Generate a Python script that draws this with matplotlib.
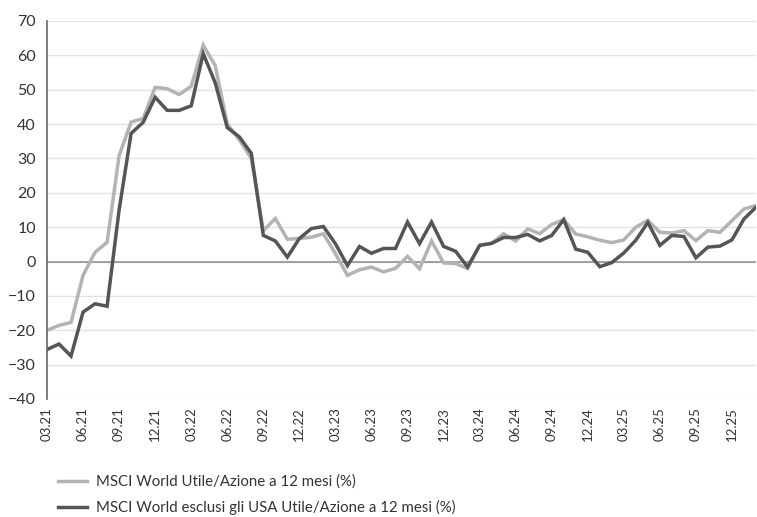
import matplotlib
matplotlib.use("Agg")
import matplotlib.pyplot as plt

# 12m forward EPS growth, monthly 03.21 .. 02.26
world_eps = [
    -20.0, -18.6, -17.7, -4.0, 2.7, 5.6, 30.8, 40.6, 41.6, 50.7,
    50.3, 48.6, 51.0, 63.0, 57.0, 40.0, 35.5, 30.0, 9.0, 12.5,
    6.5, 6.7, 7.1, 8.1, 2.3, -4.0, -2.4, -1.6, -3.0, -2.0,
    1.5, -2.1, 6.0, -0.4, -0.6, -2.0, 4.7, 5.3, 8.1, 6.0,
    9.5, 8.1, 10.8, 12.2, 8.0, 7.2, 6.2, 5.5, 6.3, 10.0,
    12.0, 8.5, 8.3, 9.0, 6.1, 9.0, 8.5, 11.9, 15.3, 16.3,
]
world_ex_usa_eps = [
    -25.6, -24.0, -27.5, -14.7, -12.3, -13.0, 15.0, 37.3, 40.5, 47.8,
    44.0, 44.0, 45.3, 60.5, 52.0, 39.0, 36.3, 31.5, 7.6, 6.0,
    1.3, 6.7, 9.6, 10.2, 5.2, -1.2, 4.4, 2.4, 3.8, 3.8,
    11.5, 5.2, 11.5, 4.4, 3.0, -1.6, 4.7, 5.3, 7.0, 7.0,
    7.9, 6.0, 7.6, 12.2, 3.6, 2.7, -1.5, -0.3, 2.5, 6.2,
    11.4, 4.7, 7.6, 7.3, 1.1, 4.2, 4.5, 6.3, 12.4, 15.8,
]
tick_labels = [
    "03.21", "06.21", "09.21", "12.21", "03.22", "06.22", "09.22", "12.22",
    "03.23", "06.23", "09.23", "12.23", "03.24", "06.24", "09.24", "12.24",
    "03.25", "06.25", "09.25", "12.25",
]
series_names = [
    "MSCI World Utile/Azione a 12 mesi (%)",
    "MSCI World esclusi gli USA Utile/Azione a 12 mesi (%)",
]

LIGHT = "#b3b3b3"
DARK = "#555555"


def main() -> None:
    plt.rcParams["font.family"] = ["Lato", "DejaVu Sans"]
    fig = plt.figure(figsize=(7.57, 5.17), dpi=100)
    ax = fig.add_axes([47 / 757, 1 - 399 / 517, 709 / 757, 378 / 517])

    x = list(range(len(world_eps)))
    ax.plot(x, world_eps, color=LIGHT, lw=2.5, solid_joinstyle="miter", label=series_names[0])
    ax.plot(x, world_ex_usa_eps, color=DARK, lw=2.5, solid_joinstyle="miter", label=series_names[1])

    ax.set_xlim(0, len(x) - 1)
    ax.set_ylim(-40, 70)
    ax.set_yticks(range(-40, 71, 10))
    ax.grid(axis="y", color="#e2e2e2", lw=1)
    ax.axhline(0, color="#8a8a8a", lw=1.1, zorder=1.5)
    ax.set_axisbelow(True)

    ax.set_xticks(range(0, 3 * len(tick_labels), 3))
    ax.set_xticklabels(tick_labels, rotation=90)
    ax.tick_params(axis="x", length=0, pad=6, labelsize=9.5, colors="#333333")
    ax.tick_params(axis="y", length=0, pad=8, labelsize=11.5, colors="#333333")

    for side in ("top", "right", "bottom"):
        ax.spines[side].set_visible(False)
    ax.spines["left"].set_color("#666666")
    ax.spines["left"].set_linewidth(1.2)

    fig.legend(
        loc="center left",
        bbox_to_anchor=(58 / 757, 1 - 495 / 517),
        frameon=False,
        fontsize=10.8,
        handlelength=1.9,
        handletextpad=0.6,
        labelspacing=0.75,
        borderpad=0,
        borderaxespad=0,
        labelcolor="#333333",
    )

    fig.savefig("out.png", dpi=100)
    plt.close(fig)


if __name__ == "__main__":
    main()
